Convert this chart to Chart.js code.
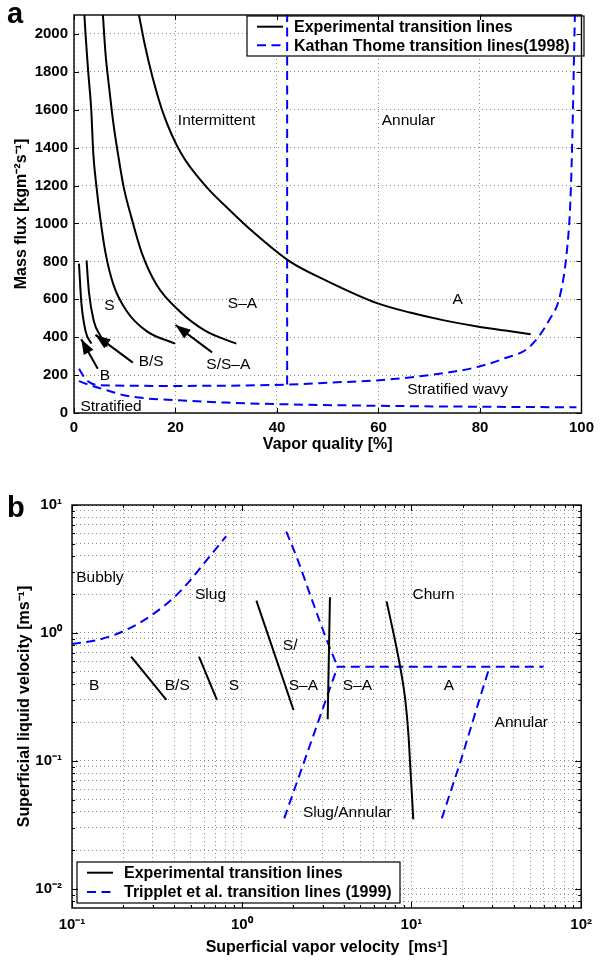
<!DOCTYPE html>
<html>
<head>
<meta charset="utf-8">
<title>Flow pattern maps</title>
<script src="https://cdn.jsdelivr.net/npm/chart.js@4.4.1/dist/chart.umd.min.js"></script>
<style>
  html, body { margin: 0; padding: 0; background: #fff; }
  canvas { display: block; }
</style>
</head>
<body>
<canvas id="chartA" width="600" height="480"></canvas>
<canvas id="chartB" width="600" height="482"></canvas>
<script>
const FONT = "'Liberation Sans', Arial, Helvetica, sans-serif";
Chart.defaults.font.family = FONT;
Chart.defaults.color = '#000';

// ---- panel a : mass flux vs vapor quality ----
const qualityTicks = [0, 20, 40, 60, 80, 100];
const fluxTicks = [0, 200, 400, 600, 800, 1000, 1200, 1400, 1600, 1800, 2000];

// experimental transition lines (black)
const expA1X = [0.98, 1.43, 2.28, 3.4];
const expA1Y = [788, 588, 432, 366];
const expA2X = [2.47, 2.93, 3.9, 5.2, 6.5];
const expA2Y = [805, 641, 485, 407, 349];
const expA3X = [2.05, 2.27, 2.8, 3.4, 3.8, 4.42, 5.2, 6.18, 7.8, 10.4, 14.3, 19.9];
const expA3Y = [2100, 2000, 1800, 1600, 1370, 1196, 1023, 849, 675, 537, 432, 366];
const expA4X = [5.7, 6.2, 7.0, 7.8, 8.65, 9.76, 11.4, 13.3, 16.3, 20.8, 26, 32];
const expA4Y = [2100, 1900, 1700, 1520, 1370, 1196, 1023, 849, 675, 537, 432, 366];
const expA5X = [12.8, 13.9, 15.4, 17.6, 21.1, 26, 30.9, 35.1, 42.5, 50, 59.7, 66.2, 72.7, 79.2, 85, 90];
const expA5Y = [2100, 1950, 1780, 1580, 1370, 1196, 1065, 960, 800, 695, 580, 530, 490, 458, 435, 416];

// Kattan-Thome lines (blue dashed)
const ktIAX = [42, 42];
const ktIAY = [150, 2100];
const ktWavyX = [1, 2, 3, 5.2, 20, 42, 50, 59.7, 70, 79.2, 85, 89.6, 93.5, 95.8, 97.1, 97.8, 98.2, 98.6, 98.7];
const ktWavyY = [233, 189, 163, 146, 143, 150, 160, 172, 200, 241, 290, 345, 484, 624, 849, 1109, 1457, 1977, 2100];
const ktStratX = [0.98, 3.25, 6.5, 9.8, 14.3, 20, 30, 40, 60, 80, 99];
const ktStratY = [168, 146, 120, 94, 77, 68, 55, 47, 38, 33, 30];

// arrows (tail -> tip)
const arrowBX = [4.68, 1.43];
const arrowBY = [233, 389];
const arrowBSX = [11.6, 4.23];
const arrowBSY = [266, 412];
const arrowSSAX = [27.2, 20.0];
const arrowSSAY = [320, 464];

const labelsA = ['Intermittent', 'Annular', 'S', 'S–A', 'A', 'B/S', 'S/S–A', 'B', 'Stratified', 'Stratified wavy'];
const labelsAX = [28.1, 65.9, 7.0, 33.2, 75.6, 15.2, 30.4, 6.1, 7.3, 75.6];
const labelsAY = [1542, 1542, 565, 575, 597, 270, 256, 195, 33, 125];

// ---- panel b : superficial velocities (log-log) ----
const vaporDecades = [0.1, 1, 10, 100];
const vaporDecadeLabels = ['10⁻¹', '10⁰', '10¹', '10²'];
const liquidDecades = [0.001, 0.01, 0.1, 1, 10];
const liquidDecadeLabels = ['10⁻³', '10⁻²', '10⁻¹', '10⁰', '10¹'];
const minorSteps = [1, 2, 3, 4, 5, 6, 7, 8, 9];

// experimental transition lines (black)
const expB1X = [0.223, 0.36];
const expB1Y = [0.653, 0.3];
const expB2X = [0.56, 0.714];
const expB2Y = [0.653, 0.3];
const expB3X = [1.22, 2.02];
const expB3Y = [1.79, 0.25];
const expB4X = [3.21, 3.31];
const expB4Y = [0.212, 1.9];
const expB5X = [7.14, 7.9, 8.59, 9.2, 9.62, 9.8, 10.1, 10.25];
const expB5Y = [1.76, 0.95, 0.54, 0.3, 0.155, 0.1, 0.05, 0.035];

// Tripplet et al. lines (blue dashed)
const trBubblyX = [0.1, 0.14, 0.19, 0.25, 0.3, 0.4, 0.5, 0.6, 0.7, 0.81];
const trBubblyY = [0.82, 0.88, 1.0, 1.2, 1.4, 1.9, 2.6, 3.5, 4.5, 5.7];
const trChurnX = [1.83, 2.14, 2.6, 3.17, 3.67];
const trChurnY = [6.2, 3.71, 1.8, 0.88, 0.545];
const trSlugAnnX = [1.78, 3.67, 28.9, 60];
const trSlugAnnY = [0.0356, 0.545, 0.545, 0.545];
const trAnnularX = [15.1, 19.6, 25.1, 28.9];
const trAnnularY = [0.0356, 0.102, 0.3, 0.545];

const labelsB = ['Bubbly', 'Slug', 'Churn', 'S/', 'B', 'B/S', 'S', 'S–A', 'S–A', 'A', 'Annular', 'Slug/Annular'];
const labelsBX = [0.146, 0.655, 13.5, 1.93, 0.135, 0.417, 0.9, 2.31, 4.81, 16.6, 44.4, 4.19];
const labelsBY = [2.7, 1.98, 2.0, 0.79, 0.39, 0.39, 0.39, 0.387, 0.387, 0.39, 0.2, 0.0395];

// ---- helpers ----
const EXP_A = 'Experimental transition lines';
const KT_A = 'Kathan Thome transition lines(1998)';
const TR_B = 'Tripplet et al. transition lines (1999)';

function pts(xs, ys) {
    return xs.map((x, i) => ({ x: x, y: ys[i] }));
}

function solidLine(xs, ys, label, smooth) {
    return {
        label: label, data: pts(xs, ys),
        borderColor: '#000', borderWidth: 2, pointRadius: 0, fill: false,
        cubicInterpolationMode: smooth ? 'monotone' : 'default', tension: 0
    };
}

function dashedLine(xs, ys, label, smooth) {
    return {
        label: label, data: pts(xs, ys),
        borderColor: '#0000ff', borderWidth: 2, borderDash: [9, 5.5], pointRadius: 0, fill: false,
        cubicInterpolationMode: smooth ? 'monotone' : 'default', tension: 0
    };
}

function arrowLine(xs, ys) {
    const ds = solidLine(xs, ys, undefined, false);
    ds.arrow = true;
    return ds;
}

function logTicks(decades, min, max) {
    const out = [];
    decades.forEach(d => minorSteps.forEach(s => {
        const v = s * d;
        if (v >= min * 0.9999 && v <= max * 1.0001) out.push({ value: v });
    }));
    return out;
}

function decadeLabel(value, decades, labels) {
    for (let i = 0; i < decades.length; i++) {
        if (Math.abs(value / decades[i] - 1) < 1e-6) return labels[i];
    }
    return '';
}

function drawLegend(chart, lg) {
    const ctx = chart.ctx;
    const items = [];
    chart.data.datasets.forEach(ds => {
        if (ds.label && !items.find(d => d.label === ds.label)) items.push(ds);
    });
    ctx.save();
    ctx.fillStyle = '#fff';
    ctx.fillRect(lg.x, lg.y, lg.w, lg.h);
    ctx.strokeStyle = '#000';
    ctx.lineWidth = 1.2;
    ctx.strokeRect(lg.x, lg.y, lg.w, lg.h);
    items.forEach((ds, i) => {
        const cy = lg.y + lg.first + i * lg.row;
        ctx.beginPath();
        ctx.setLineDash(ds.borderDash || []);
        ctx.strokeStyle = ds.borderColor;
        ctx.lineWidth = ds.borderWidth;
        ctx.moveTo(lg.x + 10, cy);
        ctx.lineTo(lg.x + 36, cy);
        ctx.stroke();
        ctx.setLineDash([]);
        ctx.fillStyle = '#000';
        ctx.font = 'bold 16px ' + FONT;
        ctx.textAlign = 'left';
        ctx.textBaseline = 'middle';
        ctx.fillText(ds.label, lg.x + 47, cy + 1);
    });
    ctx.restore();
}

function drawArrowHeads(chart) {
    const ctx = chart.ctx;
    ctx.save();
    ctx.fillStyle = '#000';
    chart.data.datasets.forEach((ds, i) => {
        if (!ds.arrow) return;
        const p = chart.getDatasetMeta(i).data;
        const a = p[p.length - 2], b = p[p.length - 1];
        const ang = Math.atan2(b.y - a.y, b.x - a.x);
        const L = 15, W = 5.5;
        const c = Math.cos(ang), s = Math.sin(ang);
        ctx.beginPath();
        ctx.moveTo(b.x, b.y);
        ctx.lineTo(b.x - L * c + W * s, b.y - L * s - W * c);
        ctx.lineTo(b.x - L * c - W * s, b.y - L * s + W * c);
        ctx.closePath();
        ctx.fill();
    });
    ctx.restore();
}

function drawRegionLabels(chart, lb) {
    const ctx = chart.ctx;
    const xs = chart.scales.x, ys = chart.scales.y;
    ctx.save();
    ctx.fillStyle = '#000';
    ctx.font = '15.5px ' + FONT;
    ctx.textAlign = 'center';
    ctx.textBaseline = 'middle';
    lb.texts.forEach((t, i) => {
        ctx.fillText(t, xs.getPixelForValue(lb.xs[i]), ys.getPixelForValue(lb.ys[i]));
    });
    ctx.restore();
}

function tickLength(scale, value) {
    if (scale.type !== 'logarithmic') return 5;
    const e = Math.log10(value);
    return Math.abs(e - Math.round(e)) < 1e-6 ? 6 : 3;
}

function drawFrame(chart) {
    const ctx = chart.ctx, a = chart.chartArea;
    const xs = chart.scales.x, ys = chart.scales.y;
    ctx.save();
    ctx.strokeStyle = '#000';
    ctx.lineWidth = 1;
    ctx.beginPath();
    xs.ticks.forEach(t => {
        const p = Math.round(xs.getPixelForValue(t.value)) + 0.5;
        const len = tickLength(xs, t.value);
        ctx.moveTo(p, a.bottom); ctx.lineTo(p, a.bottom - len);
        ctx.moveTo(p, a.top); ctx.lineTo(p, a.top + len);
    });
    ys.ticks.forEach(t => {
        const p = Math.round(ys.getPixelForValue(t.value)) + 0.5;
        const len = tickLength(ys, t.value);
        ctx.moveTo(a.left, p); ctx.lineTo(a.left + len, p);
        ctx.moveTo(a.right, p); ctx.lineTo(a.right - len, p);
    });
    ctx.stroke();
    ctx.lineWidth = 1.4;
    ctx.strokeRect(a.left, a.top, a.right - a.left, a.bottom - a.top);
    ctx.restore();
}

const decor = {
    id: 'decor',
    beforeDatasetsDraw(chart, args, opts) { drawLegend(chart, opts.legend); },
    afterDatasetsDraw(chart, args, opts) {
        drawArrowHeads(chart);
        drawRegionLabels(chart, opts.labels);
    },
    afterDraw(chart, args, opts) {
        drawFrame(chart);
        const ctx = chart.ctx;
        ctx.save();
        ctx.fillStyle = '#000';
        ctx.font = 'bold 29px ' + FONT;
        ctx.textAlign = 'left';
        ctx.textBaseline = 'alphabetic';
        ctx.fillText(opts.letter.text, opts.letter.x, opts.letter.y);
        ctx.restore();
    }
};

const gridStyle = { color: '#8c8c8c', lineWidth: 1, borderDash: [1, 3], drawTicks: false };
const borderStyle = { display: false, dash: [1, 3] };
const tickFont = { size: 15, weight: 'bold' };
const titleFont = { size: 16, weight: 'bold' };

// ---- chart a ----
new Chart(document.getElementById('chartA'), {
    type: 'line',
    data: {
        datasets: [
            solidLine(expA1X, expA1Y, EXP_A, true),
            solidLine(expA2X, expA2Y, EXP_A, true),
            solidLine(expA3X, expA3Y, EXP_A, true),
            solidLine(expA4X, expA4Y, EXP_A, true),
            solidLine(expA5X, expA5Y, EXP_A, true),
            dashedLine(ktIAX, ktIAY, KT_A, false),
            dashedLine(ktWavyX, ktWavyY, KT_A, true),
            dashedLine(ktStratX, ktStratY, KT_A, true),
            arrowLine(arrowBX, arrowBY),
            arrowLine(arrowBSX, arrowBSY),
            arrowLine(arrowSSAX, arrowSSAY)
        ]
    },
    options: {
        responsive: false,
        animation: false,
        events: [],
        layout: { padding: { top: 9, right: 13, bottom: 0, left: 0 } },
        plugins: {
            legend: { display: false },
            tooltip: { enabled: false },
            decor: {
                legend: { x: 247, y: 16, w: 337, h: 40, first: 10.7, row: 18.5 },
                labels: { texts: labelsA, xs: labelsAX, ys: labelsAY },
                letter: { text: 'a', x: 7, y: 23 }
            }
        },
        scales: {
            x: {
                type: 'linear', min: 0, max: 100,
                afterBuildTicks: s => { s.ticks = qualityTicks.map(v => ({ value: v })); },
                afterFit: s => { s.height = 67; },
                grid: gridStyle, border: borderStyle,
                ticks: { font: tickFont, padding: 6, maxRotation: 0, autoSkip: false, callback: v => String(v) },
                title: { display: true, text: 'Vapor quality [%]', font: titleFont, padding: { top: 0, bottom: 25.4 } }
            },
            y: {
                type: 'linear', min: 0, max: 2100,
                afterBuildTicks: s => { s.ticks = fluxTicks.map(v => ({ value: v })); },
                afterFit: s => { s.width = 74; },
                grid: gridStyle, border: borderStyle,
                ticks: { font: tickFont, padding: 6, autoSkip: false, callback: v => String(v) },
                title: { display: true, text: 'Mass flux [kgm⁻²s⁻¹]', font: titleFont, padding: { top: 12.4, bottom: 0 } }
            }
        }
    },
    plugins: [decor]
});

// ---- chart b ----
const xMinB = 0.1, xMaxB = 100, yMinB = 0.0071, yMaxB = 10;
new Chart(document.getElementById('chartB'), {
    type: 'line',
    data: {
        datasets: [
            solidLine(expB1X, expB1Y, EXP_A, false),
            solidLine(expB2X, expB2Y, EXP_A, false),
            solidLine(expB3X, expB3Y, EXP_A, false),
            solidLine(expB4X, expB4Y, EXP_A, false),
            solidLine(expB5X, expB5Y, EXP_A, true),
            dashedLine(trBubblyX, trBubblyY, TR_B, true),
            dashedLine(trChurnX, trChurnY, TR_B, true),
            dashedLine(trSlugAnnX, trSlugAnnY, TR_B, false),
            dashedLine(trAnnularX, trAnnularY, TR_B, false)
        ]
    },
    options: {
        responsive: false,
        animation: false,
        events: [],
        layout: { padding: { top: 25, right: 15, bottom: 0, left: 0 } },
        plugins: {
            legend: { display: false },
            tooltip: { enabled: false },
            decor: {
                legend: { x: 77, y: 382, w: 323, h: 41, first: 10.7, row: 19.3 },
                labels: { texts: labelsB, xs: labelsBX, ys: labelsBY },
                letter: { text: 'b', x: 7, y: 37 }
            }
        },
        scales: {
            x: {
                type: 'logarithmic', min: xMinB, max: xMaxB,
                afterBuildTicks: s => { s.ticks = logTicks(vaporDecades, xMinB, xMaxB); },
                afterFit: s => { s.height = 54; },
                grid: gridStyle, border: borderStyle,
                ticks: {
                    font: tickFont, padding: 8, maxRotation: 0, autoSkip: false,
                    callback: v => decadeLabel(v, vaporDecades, vaporDecadeLabels)
                },
                title: { display: true, text: 'Superficial vapor velocity  [ms¹]', font: titleFont, padding: { top: 0, bottom: 4.4 } }
            },
            y: {
                type: 'logarithmic', min: yMinB, max: yMaxB,
                afterBuildTicks: s => { s.ticks = logTicks(liquidDecades, yMinB, yMaxB); },
                afterFit: s => { s.width = 72; },
                grid: gridStyle, border: borderStyle,
                ticks: {
                    font: tickFont, padding: 10, autoSkip: false,
                    callback: v => decadeLabel(v, liquidDecades, liquidDecadeLabels)
                },
                title: { display: true, text: 'Superficial liquid velocity [ms⁻¹]', font: titleFont, padding: { top: 15.4, bottom: 0 } }
            }
        }
    },
    plugins: [decor]
});
</script>
</body>
</html>
